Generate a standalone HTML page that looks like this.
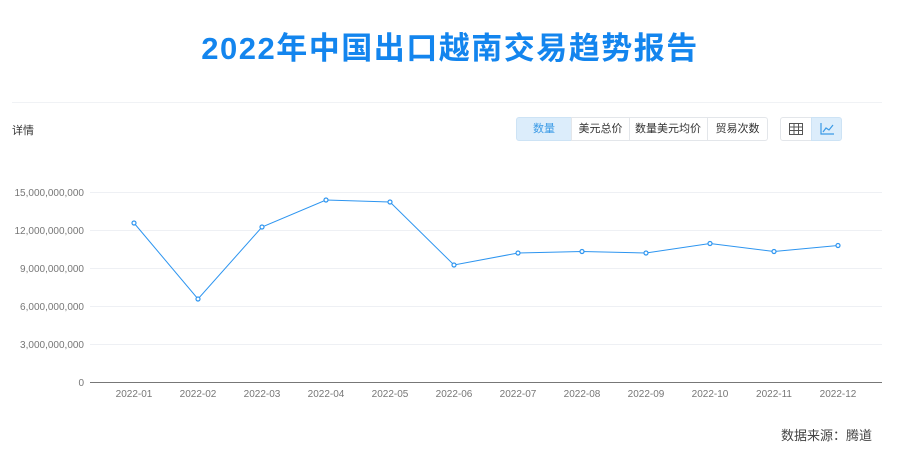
<!DOCTYPE html>
<html><head><meta charset="utf-8"><style>
body{margin:0;width:900px;height:462px;background:#fff;font-family:"Liberation Sans","Noto Sans CJK SC",sans-serif;position:relative;overflow:hidden}
.t{position:absolute;top:23px;left:0;width:900px;text-align:center;font-size:31px;font-weight:bold;color:#1385ee;letter-spacing:1.5px}
.b{position:absolute;top:117px;height:22px;border:1px solid #e3e6ea;font-size:11px;line-height:22px;text-align:center;color:#333;box-sizing:content-box}
</style></head><body>
<div class="t">2022年中国出口越南交易趋势报告</div>
<div style="position:absolute;left:12px;top:102px;width:870px;height:1px;background:#f0f2f5"></div>
<div style="position:absolute;left:12px;top:122px;font-size:11px;color:#333">详情</div>
<div class="b" style="left:516px;width:54px;background:#dcedfb;color:#3a9ae6;border-color:#cde3f5;border-radius:3px 0 0 3px">数量</div>
<div class="b" style="left:571px;width:57px">美元总价</div>
<div class="b" style="left:629px;width:78px;border-left:none">数量美元均价</div>
<div class="b" style="left:708px;width:59px;border-left:none;border-radius:0 3px 3px 0">贸易次数</div>
<div class="b" style="left:780px;width:30px;border-radius:3px 0 0 3px"><svg width="14" height="12" style="margin-top:5px"><rect x="0.5" y="0.5" width="13" height="11" fill="none" stroke="#555"/><path d="M0 4H14M0 7.5H14M5 0V12M9.5 0V12" stroke="#555"/></svg></div>
<div class="b" style="left:811px;width:29px;background:#dcedfb;border-color:#cde3f5;border-radius:0 3px 3px 0"><svg width="14" height="12" style="margin-top:5px"><path d="M1 0V11H14M3 9L6 5L9 7L13 2" fill="none" stroke="#3a9ae6" stroke-width="1.2"/></svg></div>
<svg style="position:absolute;left:0;top:0" width="900" height="462">
<g stroke="#eef0f4"><line x1="90" x2="882" y1="192.5" y2="192.5"/><line x1="90" x2="882" y1="230.5" y2="230.5"/><line x1="90" x2="882" y1="268.5" y2="268.5"/><line x1="90" x2="882" y1="306.5" y2="306.5"/><line x1="90" x2="882" y1="344.5" y2="344.5"/></g>
<line x1="90" x2="882" y1="382.5" y2="382.5" stroke="#777"/>
<g font-size="10" fill="#777" text-anchor="end" font-family="Liberation Sans,sans-serif">
<text x="84" y="196">15,000,000,000</text><text x="84" y="234">12,000,000,000</text><text x="84" y="272">9,000,000,000</text><text x="84" y="310">6,000,000,000</text><text x="84" y="348">3,000,000,000</text><text x="84" y="386">0</text></g>
<g font-size="10" fill="#777" text-anchor="middle" font-family="Liberation Sans,sans-serif">
<text x="134" y="397">2022-01</text><text x="198" y="397">2022-02</text><text x="262" y="397">2022-03</text><text x="326" y="397">2022-04</text><text x="390" y="397">2022-05</text><text x="454" y="397">2022-06</text><text x="518" y="397">2022-07</text><text x="582" y="397">2022-08</text><text x="646" y="397">2022-09</text><text x="710" y="397">2022-10</text><text x="774" y="397">2022-11</text><text x="838" y="397">2022-12</text></g>
<polyline fill="none" stroke="#2d95f0" stroke-width="1" points="134,223 198,299 262,227 326,200 390,202 454,265 518,253 582,251.5 646,253 710,243.5 774,251.5 838,245.5"/>
<g fill="#fff" stroke="#2d95f0" stroke-width="1.2">
<circle cx="134" cy="223" r="2"/><circle cx="198" cy="299" r="2"/><circle cx="262" cy="227" r="2"/><circle cx="326" cy="200" r="2"/><circle cx="390" cy="202" r="2"/><circle cx="454" cy="265" r="2"/><circle cx="518" cy="253" r="2"/><circle cx="582" cy="251.5" r="2"/><circle cx="646" cy="253" r="2"/><circle cx="710" cy="243.5" r="2"/><circle cx="774" cy="251.5" r="2"/><circle cx="838" cy="245.5" r="2"/></g>
</svg>
<div style="position:absolute;right:28px;top:425px;font-size:13px;color:#444">数据来源：腾道</div>
</body></html>
